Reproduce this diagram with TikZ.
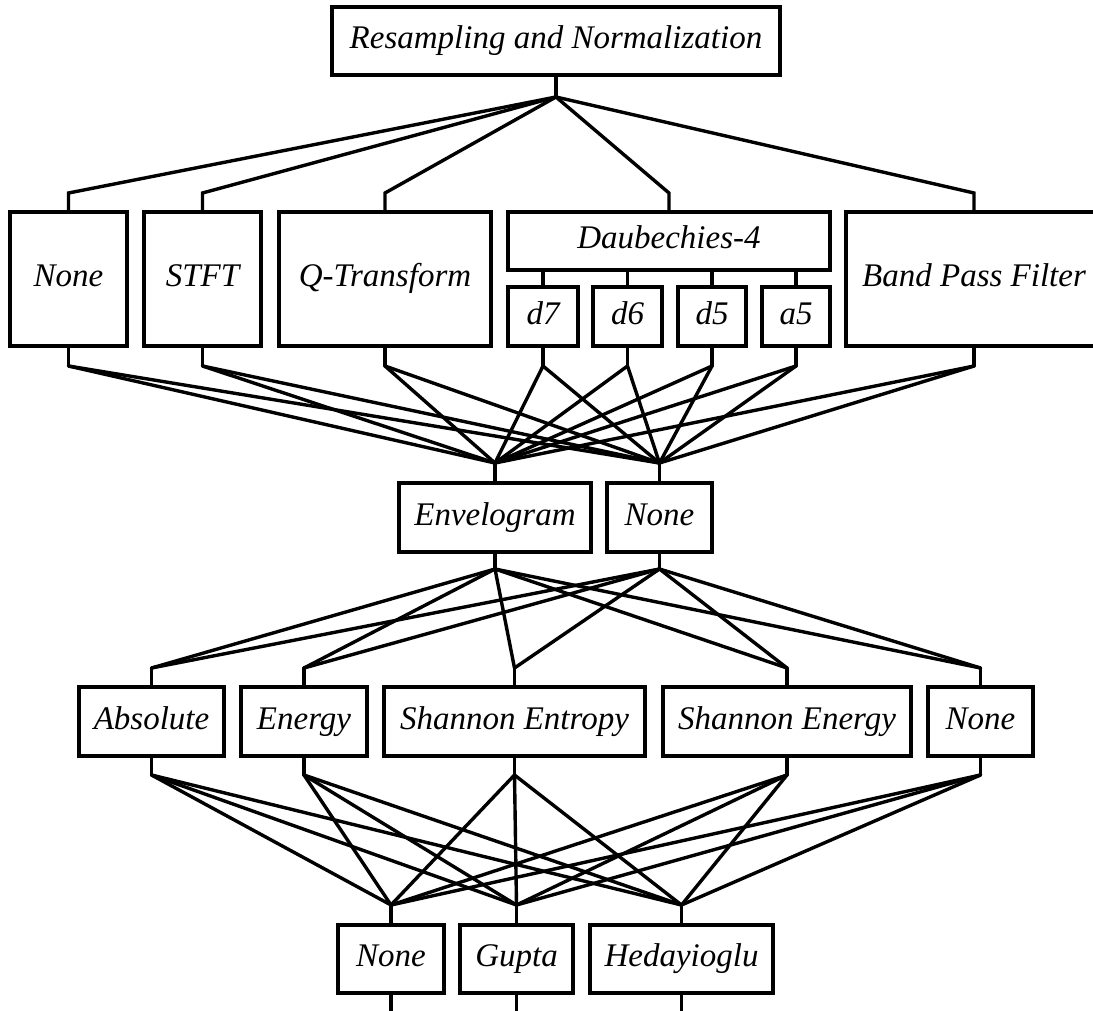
\documentclass[tikz,border=0pt]{standalone}
\usepackage{fontspec}
\setmainfont{Liberation Serif}
\begin{document}
\begin{tikzpicture}[x=1pt,y=-1pt,line width=3.4pt,line cap=round,line join=miter,
  bx/.style={draw,line cap=butt,inner sep=0pt,text height=22pt,text depth=7pt,font=\fontsize{33}{38}\selectfont\itshape}]
\useasboundingbox (0,0) rectangle (1093,1010);
\fill[white] (0,0) rectangle (1093,1010);
\clip (0,0) rectangle (1093,1010);
% rows
\coordinate (r1u) at (0,193);
\coordinate (r1d) at (0,366);
\coordinate (r2u) at (0,463);
\coordinate (r2d) at (0,569);
\coordinate (r3u) at (0,668);
\coordinate (r3d) at (0,775);
\coordinate (r4u) at (0,905);
\coordinate (r4d) at (0,1015);
% nodes
\node[bx,minimum width=448pt,minimum height=68pt] (top) at (556,41) {Resampling and Normalization};
\node[bx,minimum width=117pt,minimum height=134pt] (n1) at (68.5,279) {None};
\node[bx,minimum width=117pt,minimum height=134pt] (stft) at (202.5,279) {STFT};
\node[bx,minimum width=212pt,minimum height=134pt] (qt) at (385,279) {Q-Transform};
\node[bx,minimum width=322pt,minimum height=58pt] (daub) at (669,241) {Daubechies-4};
\node[bx,minimum width=70pt,minimum height=59pt] (d7) at (543,316.5) {d7};
\node[bx,minimum width=69pt,minimum height=59pt] (d6) at (627.5,316.5) {d6};
\node[bx,minimum width=68pt,minimum height=59pt] (d5) at (712,316.5) {d5};
\node[bx,minimum width=68pt,minimum height=59pt] (a5) at (796,316.5) {a5};
\node[bx,minimum width=256pt,minimum height=134pt] (bpf) at (974,279) {Band Pass Filter};
\node[bx,minimum width=192pt,minimum height=69pt] (env) at (495,517.5) {Envelogram};
\node[bx,minimum width=105pt,minimum height=69pt] (n2) at (659.5,517.5) {None};
\node[bx,minimum width=145pt,minimum height=69pt] (absn) at (151.5,721.5) {Absolute};
\node[bx,minimum width=126pt,minimum height=69pt] (en) at (304,721.5) {Energy};
\node[bx,minimum width=261pt,minimum height=69pt] (sent) at (514.5,721.5) {Shannon Entropy};
\node[bx,minimum width=248pt,minimum height=69pt] (shen) at (787,721.5) {Shannon Energy};
\node[bx,minimum width=105pt,minimum height=69pt] (n3) at (980.5,721.5) {None};
\node[bx,minimum width=106pt,minimum height=68pt] (n4) at (391,959) {None};
\node[bx,minimum width=113pt,minimum height=68pt] (gup) at (516.5,959) {Gupta};
\node[bx,minimum width=183pt,minimum height=68pt] (hed) at (681.5,959) {Hedayioglu};
% top fan
\coordinate (j0) at (556,97);
\draw (top.south) -- (j0);
\foreach \t in {n1,stft,qt,daub,bpf} \draw (j0) -- (\t.north |- r1u) -- (\t.north);
\foreach \t in {d7,d6,d5,a5} \draw (daub.south -| \t.north) -- (\t.north);
% level 1 -> 2
\foreach \s in {n1,stft,qt,d7,d6,d5,a5,bpf} {
  \draw (\s.south) -- (\s.south |- r1d);
  \foreach \t in {env,n2} \draw (\s.south |- r1d) -- (\t.north |- r2u);
}
\foreach \t in {env,n2} \draw (\t.north |- r2u) -- (\t.north);
% level 2 -> 3
\foreach \s in {env,n2} {
  \draw (\s.south) -- (\s.south |- r2d);
  \foreach \t in {absn,en,sent,shen,n3} \draw (\s.south |- r2d) -- (\t.north |- r3u);
}
\foreach \t in {absn,en,sent,shen,n3} \draw (\t.north |- r3u) -- (\t.north);
% level 3 -> 4
\foreach \s in {absn,en,sent,shen,n3} {
  \draw (\s.south) -- (\s.south |- r3d);
  \foreach \t in {n4,gup,hed} \draw (\s.south |- r3d) -- (\t.north |- r4u);
}
\foreach \t in {n4,gup,hed} {
  \draw (\t.north |- r4u) -- (\t.north);
  \coordinate (\t end) at (\t.south |- r4d);
  \draw (\t.south) -- (\t end);
}
\end{tikzpicture}
\end{document}
